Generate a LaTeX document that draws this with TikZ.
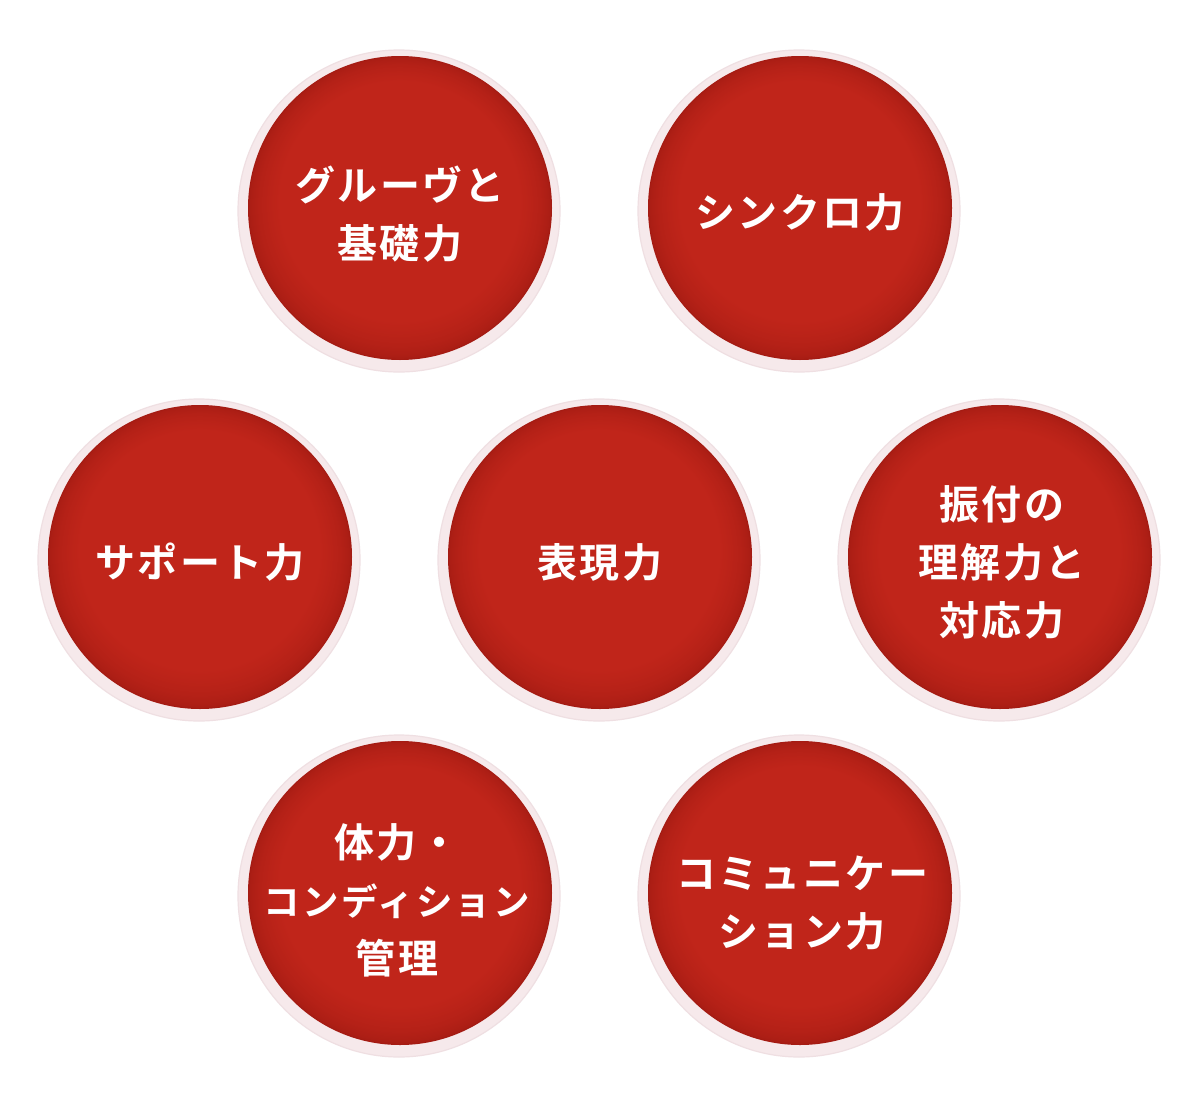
\documentclass[tikz,border=0pt]{standalone}
\usepackage{fontspec}
\newfontfamily\jp{Noto Sans CJK JP}[BoldFont={Noto Sans CJK JP Bold}]
\definecolor{rcA}{HTML}{C0251A}
\definecolor{rcC}{HTML}{A41B13}
\definecolor{ring}{HTML}{F6E9EB}
\definecolor{ringedge}{HTML}{EFDFE2}
\tikzset{
  ballring/.style={fill=ring, draw=ringedge, line width=1.2pt},
  balltext/.style={text=white, align=center, font=\jp\bfseries\fontsize{40}{58}\selectfont\addfontfeatures{LetterSpace=6}}
}
\begin{document}
\begin{tikzpicture}[x=1pt,y=-1pt]
\useasboundingbox (0,0) rectangle (1200,1100);
\fill[white] (0,0) rectangle (1200,1100);
\foreach \n/\cx/\cy in {a/400/208, b/800/208, c/200/557, d/600/557, e/1000/557, f/400/893, g/800/893}{
  \draw[ballring] (\cx-1,\cy+3) circle[radius=161];
  \foreach \i in {0,...,32}{
    \pgfmathsetmacro\mix{min(100,100*sqrt(\i/32))}
    \fill[rcA!\mix!rcC] (\cx,\cy-\i*0.2) circle[radius=152-\i];
  }
}
\node[balltext] (a) at (400,214) {グルーヴと\\基礎力};
\node[balltext] (b) at (800,212) {シンクロ力};
\node[balltext] (c) at (200,562) {サポート力};
\node[balltext] (d) at (600,562) {表現力};
\node[balltext] (e) at (1002,562) {振付の\\理解力と\\対応力};
\node[balltext] (f) at (397,900) {体力・\\{\fontsize{36.5}{58}\selectfont コンディション}\\管理};
\node[balltext] (g) at (802,903) {コミュニケー\\ション力};
\end{tikzpicture}
\end{document}
